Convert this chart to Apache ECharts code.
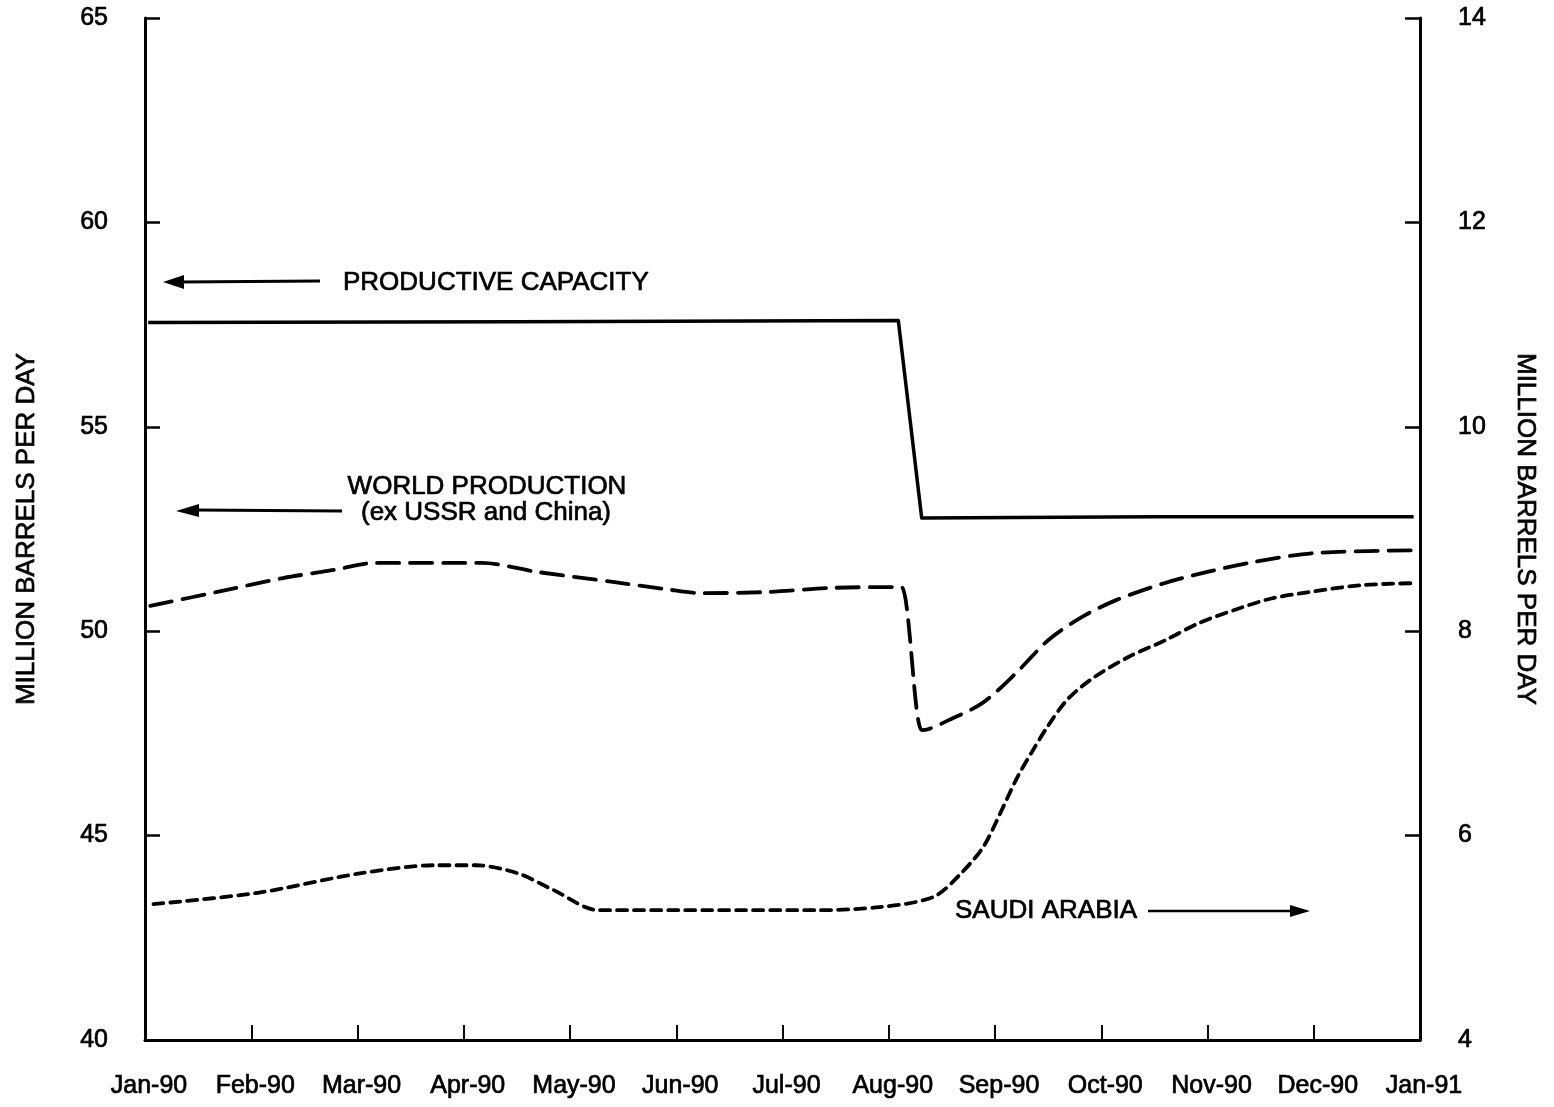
<!DOCTYPE html>
<html>
<head>
<meta charset="utf-8">
<script src="https://cdn.jsdelivr.net/npm/echarts@6/dist/echarts.min.js"></script>
<style>
html,body{margin:0;padding:0;background:#fff;}
#chart{width:1554px;height:1107px;}
</style>
</head>
<body>
<div id="chart"></div>
<script>
// Tick labels for the month axis (index 0 = Jan-90 ... 12 = Jan-91)
var monthLabels = ['Jan-90','Feb-90','Mar-90','Apr-90','May-90','Jun-90','Jul-90','Aug-90','Sep-90','Oct-90','Nov-90','Dec-90','Jan-91'];
var leftTicks = [40, 45, 50, 55, 60, 65];
var rightTicks = [4, 6, 8, 10, 12, 14];

// Productive capacity (left axis, million b/d) [month index, value]
var capacity = [[0.03,57.55],[3.5,57.57],[7.09,57.6],[7.31,52.77],[9.5,52.8],[11.94,52.8]];

// World production ex USSR and China (left axis)
var worldProduction = [[0.05,50.62],[0.68,50.96],[1.30,51.30],[1.78,51.50],[2.16,51.67],[3.17,51.67],[3.69,51.45],[4.42,51.20],[4.90,51.03],[5.23,50.93],[5.86,50.96],[6.48,51.06],[7.04,51.08],[7.12,51.08],[7.31,47.58],[7.37,47.60],[7.57,47.83],[7.88,48.24],[8.2,48.98],[8.5,49.78],[8.82,50.35],[9.14,50.76],[9.6,51.18],[10.0,51.45],[10.43,51.69],[11.0,51.91],[11.93,51.98]];

// Saudi Arabia (right axis)
var saudiArabia = [[0.08,5.33],[1.06,5.44],[2.02,5.63],[2.74,5.71],[3.12,5.71],[3.51,5.63],[3.84,5.47],[4.27,5.27],[5.3,5.27],[6.33,5.27],[6.91,5.30],[7.42,5.40],[7.68,5.63],[7.89,5.89],[8.05,6.22],[8.21,6.57],[8.36,6.84],[8.49,7.06],[8.68,7.33],[8.92,7.54],[9.26,7.75],[9.60,7.91],[9.92,8.08],[10.26,8.21],[10.60,8.32],[10.94,8.38],[11.44,8.45],[11.95,8.47]];

var FONT = '"Liberation Sans", Arial, Helvetica, sans-serif';
var chart = echarts.init(document.getElementById('chart'), null, {renderer:'canvas'});

var textHeavy = {color:'#000', fontFamily:FONT, textBorderColor:'#000', textBorderWidth:0.7};

var option = {
  backgroundColor:'#fff',
  animation:false,
  grid:{left:145, right:134, top:18, bottom:67, containLabel:false, outerBoundsMode:'none'},
  xAxis:{
    type:'value', min:0, max:12, interval:1,
    axisLine:{show:true, onZero:false, lineStyle:{color:'#000', width:3}},
    axisTick:{show:true, inside:true, length:15, lineStyle:{color:'#000', width:2}},
    splitLine:{show:false},
    axisLabel:Object.assign({margin:34, fontSize:25, padding:[0,0,0,8], formatter:function(v){return monthLabels[Math.round(v)];}}, textHeavy)
  },
  yAxis:[{
    type:'value', position:'left', min:leftTicks[0], max:leftTicks[leftTicks.length-1], interval:5,
    name:'MILLION BARRELS PER DAY', nameLocation:'middle', nameRotate:90, nameGap:105,
    nameTextStyle:Object.assign({fontSize:26}, textHeavy),
    axisLine:{show:true, lineStyle:{color:'#000', width:3}},
    axisTick:{show:true, inside:true, length:15, lineStyle:{color:'#000', width:2.5}},
    splitLine:{show:false},
    axisLabel:Object.assign({margin:37, fontSize:25}, textHeavy)
  },{
    type:'value', position:'right', min:rightTicks[0], max:rightTicks[rightTicks.length-1], interval:2,
    name:'MILLION BARRELS PER DAY', nameLocation:'middle', nameRotate:-90, nameGap:92,
    nameTextStyle:Object.assign({fontSize:26}, textHeavy),
    axisLine:{show:true, lineStyle:{color:'#000', width:3}},
    axisTick:{show:true, inside:true, length:15, lineStyle:{color:'#000', width:2.5}},
    splitLine:{show:false},
    axisLabel:Object.assign({margin:38, fontSize:25}, textHeavy)
  }],
  series:[{
    name:'Productive Capacity', type:'line', yAxisIndex:0, data:capacity,
    showSymbol:false, smooth:false,
    lineStyle:{color:'#000', width:3.5, join:'round'}
  },{
    name:'World Production', type:'line', yAxisIndex:0, data:worldProduction,
    showSymbol:false, smooth:0.3,
    lineStyle:{color:'#000', width:3.8, type:[22,11], cap:'round', join:'round'}
  },{
    name:'Saudi Arabia', type:'line', yAxisIndex:1, data:saudiArabia,
    showSymbol:false, smooth:0.3,
    lineStyle:{color:'#000', width:3.8, type:[10,7], cap:'round', join:'round'}
  }],
  graphic:[
    {type:'text', style:{text:'PRODUCTIVE CAPACITY', x:343, y:283, textVerticalAlign:'middle', font:'26px '+FONT, fill:'#000', stroke:'#000', lineWidth:0.7}},
    {type:'polyline', shape:{points:[[320,281],[180,282]]}, style:{stroke:'#000', lineWidth:3, fill:null}},
    {type:'polygon', shape:{points:[[163,282],[184,275],[184,289]]}, style:{fill:'#000'}},

    {type:'text', style:{text:'WORLD PRODUCTION', x:487, y:487, textAlign:'center', textVerticalAlign:'middle', font:'26px '+FONT, fill:'#000', stroke:'#000', lineWidth:0.7}},
    {type:'text', style:{text:'(ex USSR and China)', x:486, y:513, textAlign:'center', textVerticalAlign:'middle', font:'26px '+FONT, fill:'#000', stroke:'#000', lineWidth:0.7}},
    {type:'polyline', shape:{points:[[342,511],[195,510]]}, style:{stroke:'#000', lineWidth:3, fill:null}},
    {type:'polygon', shape:{points:[[176,511],[199,504],[199,517]]}, style:{fill:'#000'}},

    {type:'text', style:{text:'SAUDI ARABIA', x:955, y:911, textVerticalAlign:'middle', font:'26px '+FONT, fill:'#000', stroke:'#000', lineWidth:0.7}},
    {type:'polyline', shape:{points:[[1148,911],[1295,911]]}, style:{stroke:'#000', lineWidth:2.5, fill:null}},
    {type:'polygon', shape:{points:[[1310,911],[1290,905],[1290,917]]}, style:{fill:'#000'}}
  ]
};
chart.setOption(option);
</script>
</body>
</html>
